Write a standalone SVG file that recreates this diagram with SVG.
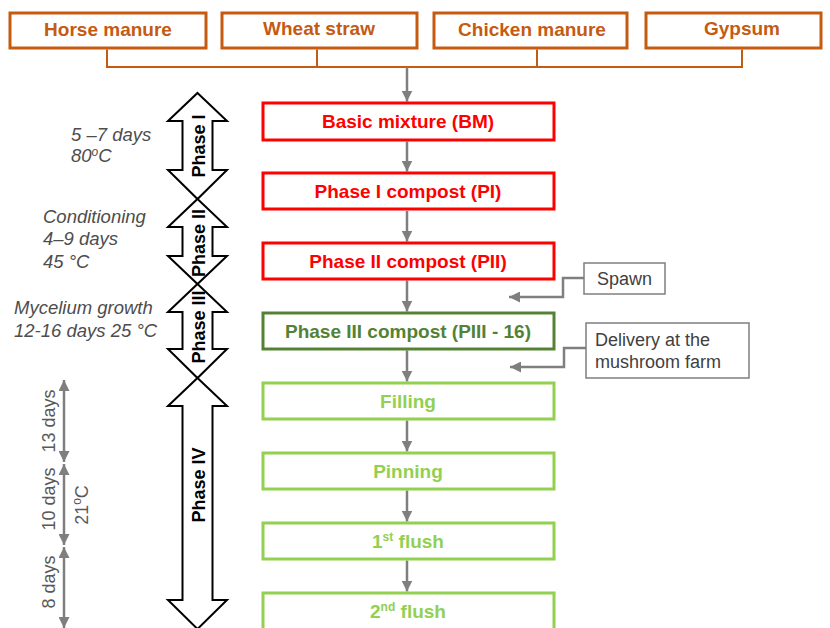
<svg xmlns="http://www.w3.org/2000/svg" width="830" height="628" viewBox="0 0 830 628">
<style>
.bg{fill:#ffffff}
.src rect{fill:#fff;stroke:#C55A11;stroke-width:3}
.src text{font-family:"Liberation Sans",Arial,sans-serif;font-weight:bold;font-size:19px;fill:#C55A11;text-anchor:middle}
.red rect{fill:#fff;stroke:#FF0000;stroke-width:3}
.red text{font-family:"Liberation Sans",Arial,sans-serif;font-weight:bold;font-size:19px;fill:#FF0000;text-anchor:middle}
.dg rect{fill:#fff;stroke:#548235;stroke-width:3}
.dg text{font-family:"Liberation Sans",Arial,sans-serif;font-weight:bold;font-size:19px;fill:#548235;text-anchor:middle}
.lg rect{fill:#fff;stroke:#92D050;stroke-width:3}
.lg text{font-family:"Liberation Sans",Arial,sans-serif;font-weight:bold;font-size:19px;fill:#92D050;text-anchor:middle}
.note rect{fill:#fff;stroke:#7F7F7F;stroke-width:1.5}
.note text{font-family:"Liberation Sans",Arial,sans-serif;font-size:18px;fill:#404040}
.phase polygon{fill:#fff;stroke:#000;stroke-width:2;stroke-linejoin:miter}
.phase text{font-family:"Liberation Sans",Arial,sans-serif;font-weight:bold;font-size:18px;fill:#000;text-anchor:middle}
.it{font-family:"Liberation Sans",Arial,sans-serif;font-style:italic;font-size:18.5px;fill:#4D4D4D}
.gl{font-family:"Liberation Sans",Arial,sans-serif;font-size:18px;fill:#595959;text-anchor:middle}
.orl{fill:none;stroke:#C55A11;stroke-width:2}
.ga{fill:none;stroke:#7F7F7F;stroke-width:2.5;marker-end:url(#ah)}
.gd{fill:none;stroke:#7F7F7F;stroke-width:2.5;marker-start:url(#ahs);marker-end:url(#ah)}
</style>
<defs>
<marker id="ah" viewBox="0 0 10 10" refX="10" refY="5" markerUnits="userSpaceOnUse" markerWidth="11" markerHeight="11" orient="auto">
<path d="M0,0 L10,5 L0,10 z" fill="#7F7F7F"/>
</marker>
<marker id="ahs" viewBox="0 0 10 10" refX="10" refY="5" markerUnits="userSpaceOnUse" markerWidth="11" markerHeight="11" orient="auto-start-reverse">
<path d="M0,0 L10,5 L0,10 z" fill="#7F7F7F"/>
</marker>
</defs>
<rect class="bg" x="0" y="0" width="830" height="628"/>

<g id="connectors">
<polyline class="orl" points="107,49.5 107,67 742,67 742,49.5"/>
<line class="orl" x1="317" y1="49.5" x2="317" y2="67"/>
<line class="orl" x1="537" y1="49.5" x2="537" y2="67"/>
<line class="ga" x1="407" y1="67" x2="407" y2="101.5"/>
<line class="ga" x1="407" y1="141.5" x2="407" y2="171.5"/>
<line class="ga" x1="407" y1="211" x2="407" y2="241.5"/>
<line class="ga" x1="407" y1="280.5" x2="407" y2="311.5"/>
<line class="ga" x1="407" y1="350.5" x2="407" y2="381.5"/>
<line class="ga" x1="407" y1="420.5" x2="407" y2="451.5"/>
<line class="ga" x1="407" y1="490.5" x2="407" y2="521.5"/>
<line class="ga" x1="407" y1="560.5" x2="407" y2="591.5"/>
<polyline class="ga" points="584,278 563,278 563,297 509,297"/>
<polyline class="ga" points="586,348 564,348 564,367 510,367"/>
<line class="gd" x1="64" y1="462" x2="64" y2="380"/>
<line class="gd" x1="64" y1="545" x2="64" y2="464"/>
<line class="gd" x1="64" y1="628" x2="64" y2="547"/>
</g>

<g id="horse" class="src"><rect x="10" y="13" width="196" height="35"/><text x="108" y="36">Horse manure</text></g>
<g id="wheat" class="src"><rect x="222" y="13" width="195" height="35"/><text x="319" y="35">Wheat straw</text></g>
<g id="chicken" class="src"><rect x="434" y="13" width="193" height="35"/><text x="532" y="36">Chicken manure</text></g>
<g id="gypsum" class="src"><rect x="646" y="13" width="175" height="35"/><text x="742" y="35">Gypsum</text></g>

<g id="bm" class="red"><rect x="263" y="103" width="291" height="37"/><text x="408" y="127.5">Basic mixture (BM)</text></g>
<g id="pi" class="red"><rect x="263" y="173" width="291" height="36"/><text x="408" y="197.5">Phase I compost (PI)</text></g>
<g id="pii" class="red"><rect x="263" y="243" width="291" height="36"/><text x="408" y="267.5">Phase II compost (PII)</text></g>
<g id="piii" class="dg"><rect x="263" y="313" width="291" height="36"/><text x="408" y="337.5">Phase III compost (PIII - 16)</text></g>
<g id="filling" class="lg"><rect x="263" y="383" width="291" height="36"/><text x="408" y="407.5">Filling</text></g>
<g id="pinning" class="lg"><rect x="263" y="453" width="291" height="36"/><text x="408" y="477.5">Pinning</text></g>
<g id="flush1" class="lg"><rect x="263" y="523" width="291" height="36"/><text x="408" y="547.5">1<tspan font-size="12" dy="-7">st</tspan><tspan dy="7"> flush</tspan></text></g>
<g id="flush2" class="lg"><rect x="263" y="593" width="291" height="38"/><text x="408" y="617.5">2<tspan font-size="12" dy="-7">nd</tspan><tspan dy="7"> flush</tspan></text></g>

<g id="spawn" class="note"><rect x="584" y="263" width="81" height="31"/><text x="597" y="285">Spawn</text></g>
<g id="delivery" class="note"><rect x="586" y="323" width="163" height="55"/><text x="595" y="346">Delivery at the</text><text x="595" y="368">mushroom farm</text></g>

<g id="phase1" class="phase"><polygon points="197.5,93 227,121 212.5,121 212.5,170 227,170 197.5,199 168,170 182.5,170 182.5,121 168,121"/><text transform="translate(204.5,146) rotate(-90)">Phase I</text></g>
<g id="phase2" class="phase"><polygon points="197.5,199 227,227 212.5,227 212.5,256 227,256 197.5,284 168,256 182.5,256 182.5,227 168,227"/><text transform="translate(204.5,243) rotate(-90)">Phase II</text></g>
<g id="phase3" class="phase"><polygon points="197.5,284 227,312 212.5,312 212.5,349 227,349 197.5,378 168,349 182.5,349 182.5,312 168,312"/><text transform="translate(204.5,327) rotate(-90)">Phase III</text></g>
<g id="phase4" class="phase"><polygon points="197.5,378 227,406 212.5,406 212.5,600 227,600 197.5,629 168,600 182.5,600 182.5,406 168,406"/><text transform="translate(204.5,485) rotate(-90)">Phase IV</text></g>

<g id="left-notes">
<text class="it" x="71" y="140.5">5 –7 days</text>
<text class="it" x="71" y="161.5">80<tspan font-size="12" dy="-6">o</tspan><tspan dy="6">C</tspan></text>
<text class="it" x="43" y="223">Conditioning</text>
<text class="it" x="43" y="245">4–9 days</text>
<text class="it" x="43" y="268">45 °C</text>
<text class="it" x="14" y="314">Mycelium growth</text>
<text class="it" x="14" y="337">12-16 days 25 °C</text>
</g>

<g id="phase4-durations">
<text class="gl" transform="translate(55,421) rotate(-90)">13 days</text>
<text class="gl" transform="translate(55,499) rotate(-90)">10 days</text>
<text class="gl" transform="translate(55,582) rotate(-90)">8 days</text>
<text class="gl" transform="translate(88,505) rotate(-90)">21<tspan font-size="12" dy="-7">o</tspan><tspan dy="7">C</tspan></text>
</g>
</svg>
